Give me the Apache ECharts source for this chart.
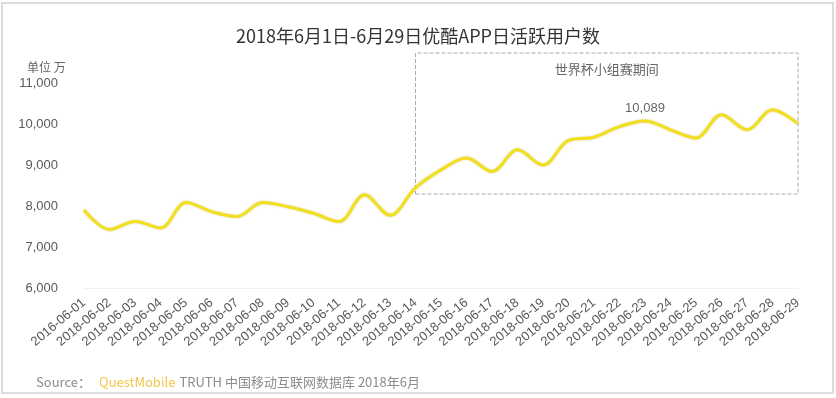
<!DOCTYPE html>
<html>
<head>
<meta charset="utf-8">
<script src="https://cdn.jsdelivr.net/npm/echarts@6/dist/echarts.min.js"></script>
<style>
html, body { margin: 0; padding: 0; background: #fff; }
#main { width: 836px; height: 398px; }
</style>
</head>
<body>
<div id="main"></div>
<script>
var dates = ['2016-06-01', '2018-06-02', '2018-06-03', '2018-06-04', '2018-06-05', '2018-06-06',
    '2018-06-07', '2018-06-08', '2018-06-09', '2018-06-10', '2018-06-11', '2018-06-12',
    '2018-06-13', '2018-06-14', '2018-06-15', '2018-06-16', '2018-06-17', '2018-06-18',
    '2018-06-19', '2018-06-20', '2018-06-21', '2018-06-22', '2018-06-23', '2018-06-24',
    '2018-06-25', '2018-06-26', '2018-06-27', '2018-06-28', '2018-06-29'];
var dau = [7910, 7430, 7625, 7470, 8090, 7870, 7750, 8090, 7990, 7830, 7625, 8280,
    7780, 8450, 8890, 9180, 8850, 9380, 9010, 9610, 9690, 9950, 10089, 9870,
    9670, 10240, 9870, 10360, 10020];
var peakIndex = 22;
var wcStart = '2018-06-14';
var wcEnd = '2018-06-29';
var wcLabel = '世界杯小组赛期间';
var yTicks = { min: 6000, max: 11750, step: 1000 };

var dom = document.getElementById("main");
var myChart = echarts.init(dom);

var option = {
    backgroundColor: '#fff',
    textStyle: { fontFamily: '"Noto Sans CJK SC", "Liberation Sans", sans-serif' },
    title: [
        {
            text: '2018年6月1日-6月29日优酷APP日活跃用户数',
            left: 'center',
            top: 22,
            textStyle: { fontSize: 18, fontWeight: 'normal', color: '#333' }
        },
        {
            text: '单位 万',
            left: 22,
            top: 56,
            textStyle: { fontSize: 12, fontWeight: 'normal', color: '#666' }
        },
        {
            text: '{a|Source：}  {b|QuestMobile} {a|TRUTH 中国移动互联网数据库 2018年6月}',
            left: 31,
            top: 368,
            textStyle: {
                fontWeight: 'normal',
                rich: {
                    a: { fontSize: 13, color: '#8c8c8c', fontWeight: 'normal' },
                    b: { fontSize: 13, color: '#f3c64a', fontWeight: 'normal' }
                }
            }
        }
    ],
    graphic: [
        {
            type: 'rect',
            shape: { x: 2, y: 3, width: 831, height: 390 },
            style: { fill: 'none', stroke: '#dcdcdc', lineWidth: 2 },
            silent: true
        }
    ],
    grid: {
        left: 84,
        right: 38,
        top: 53,
        bottom: 110
    },
    xAxis: {
        type: 'category',
        boundaryGap: false,
        data: dates,
        axisTick: { show: false },
        axisLine: { show: true, lineStyle: { color: '#efefef' } },
        axisLabel: {
            rotate: 40,
            interval: 0,
            fontSize: 13,
            color: '#595959',
            fontFamily: '"Liberation Sans", sans-serif',
            margin: 13
        }
    },
    yAxis: {
        type: 'value',
        min: yTicks.min,
        max: yTicks.max,
        interval: yTicks.step,
        splitLine: { show: false },
        axisTick: { show: false },
        axisLine: { show: false },
        axisLabel: {
            showMaxLabel: false,
            fontSize: 13,
            color: '#595959',
            margin: 26,
            fontFamily: '"Liberation Sans", sans-serif',
            formatter: function (v) { return v.toLocaleString('en-US'); }
        }
    },
    series: [
        {
            type: 'line',
            data: dau,
            smooth: 0.35,
            symbol: 'none',
            lineStyle: {
                color: '#f2df1f',
                width: 3,
                shadowColor: 'rgba(170, 150, 0, 0.45)',
                shadowBlur: 2
            },
            markPoint: {
                silent: true,
                symbol: 'circle',
                symbolSize: 0,
                label: {
                    show: true,
                    position: 'top',
                    distance: 6,
                    fontSize: 13,
                    color: '#666',
                    fontFamily: '"Liberation Sans", sans-serif',
                    formatter: function (p) { return p.value.toLocaleString('en-US'); }
                },
                data: [
                    { coord: [dates[peakIndex], dau[peakIndex]], value: dau[peakIndex] }
                ]
            },
            markArea: {
                silent: true,
                itemStyle: {
                    color: 'rgba(0,0,0,0)',
                    borderColor: '#aaa',
                    borderWidth: 1,
                    borderType: 'dashed'
                },
                label: {
                    position: 'insideTop',
                    distance: 10,
                    fontSize: 13,
                    color: '#666'
                },
                data: [[
                    { name: wcLabel, xAxis: wcStart, yAxis: 8300 },
                    { xAxis: wcEnd, yAxis: yTicks.max }
                ]]
            }
        }
    ]
};

if (option && typeof option === "object") {
    myChart.setOption(option, true);
}
</script>
</body>
</html>
